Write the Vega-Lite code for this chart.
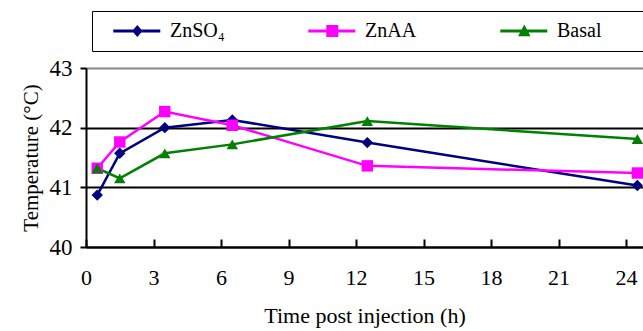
{
  "$schema": "https://vega.github.io/schema/vega-lite/v6.json",
  "width": 557,
  "height": 179,
  "autosize": "none",
  "padding": {"left": 86, "top": 68, "right": 0, "bottom": 84},
  "background": "white",
  "config": {
    "view": {"stroke": null},
    "font": "Liberation Serif",
    "axis": {"labelFont": "Liberation Serif", "titleFont": "Liberation Serif"},
    "legend": {"labelFont": "Liberation Serif", "titleFont": "Liberation Serif"}
  },
  "data": {
    "values": [
      {"time": 0.5, "group": "ZnSO4", "temp": 40.87},
      {"time": 1.5, "group": "ZnSO4", "temp": 41.57},
      {"time": 3.5, "group": "ZnSO4", "temp": 42.0},
      {"time": 6.5, "group": "ZnSO4", "temp": 42.13},
      {"time": 12.5, "group": "ZnSO4", "temp": 41.75},
      {"time": 24.5, "group": "ZnSO4", "temp": 41.03},
      {"time": 0.5, "group": "ZnAA", "temp": 41.32},
      {"time": 1.5, "group": "ZnAA", "temp": 41.76},
      {"time": 3.5, "group": "ZnAA", "temp": 42.27},
      {"time": 6.5, "group": "ZnAA", "temp": 42.04},
      {"time": 12.5, "group": "ZnAA", "temp": 41.36},
      {"time": 24.5, "group": "ZnAA", "temp": 41.24},
      {"time": 0.5, "group": "Basal", "temp": 41.32},
      {"time": 1.5, "group": "Basal", "temp": 41.15},
      {"time": 3.5, "group": "Basal", "temp": 41.57},
      {"time": 6.5, "group": "Basal", "temp": 41.72},
      {"time": 12.5, "group": "Basal", "temp": 42.11},
      {"time": 24.5, "group": "Basal", "temp": 41.81}
    ]
  },
  "encoding": {
    "x": {
      "field": "time", "type": "quantitative",
      "scale": {"domain": [0, 24.75], "nice": false, "zero": false},
      "axis": {
        "values": [0, 3, 6, 9, 12, 15, 18, 21, 24],
        "title": "Time post injection (h)",
        "grid": false,
        "domainColor": "black", "domainWidth": 2,
        "tickColor": "black", "tickWidth": 2, "tickSize": -8,
        "labelFont": "Liberation Serif", "labelFontSize": 22, "labelColor": "black",
        "labelPadding": 28, "labelFlush": false,
        "titleFont": "Liberation Serif", "titleFontSize": 22, "titleFontWeight": "normal",
        "titleColor": "black", "titlePadding": 17
      }
    },
    "y": {
      "field": "temp", "type": "quantitative",
      "scale": {"domain": [40, 43], "nice": false, "zero": false},
      "axis": {
        "values": [40, 41, 42, 43],
        "title": "Temperature (°C)",
        "grid": true,
        "gridColor": {"condition": {"test": "datum.value == 43", "value": "#888888"}, "value": "black"},
        "gridWidth": 2, "gridOpacity": 1,
        "domainColor": "black", "domainWidth": 2,
        "tickColor": "black", "tickWidth": 2, "tickSize": 6,
        "labelFont": "Liberation Serif", "labelFontSize": 23, "labelColor": "black",
        "labelPadding": 8,
        "titleFont": "Liberation Serif", "titleFontSize": 21, "titleFontWeight": "normal",
        "titleColor": "#000000", "titlePadding": 8
      }
    }
  },
  "layer": [
    {
      "mark": {"type": "line", "strokeWidth": 2.5},
      "encoding": {
        "color": {
          "field": "group", "type": "nominal",
          "scale": {"domain": ["ZnSO4", "ZnAA", "Basal"], "range": ["#000080", "#FF00FF", "#008000"]},
          "legend": null
        }
      }
    },
    {
      "mark": {"type": "point", "filled": true, "opacity": 1, "size": 130},
      "encoding": {
        "color": {
          "field": "group", "type": "nominal",
          "scale": {"domain": ["ZnSO4", "ZnAA", "Basal"], "range": ["#000080", "#FF00FF", "#008000"]},
          "legend": null
        },
        "shape": {
          "field": "group", "type": "nominal",
          "scale": {"domain": ["ZnSO4", "ZnAA", "Basal"], "range": ["diamond", "square", "triangle-up"]},
          "legend": null
        }
      }
    },
    {
      "mark": {"type": "point", "filled": true, "opacity": 0, "size": 10},
      "encoding": {
        "color": {
          "field": "group", "type": "nominal",
          "scale": {"domain": ["ZnSO4", "ZnAA", "Basal"], "range": ["#000080", "#FF00FF", "#008000"]},
          "legend": {
            "orient": "none", "legendX": 6, "legendY": -57,
            "direction": "horizontal",
            "title": "xxx",
            "titleOrient": "right", "titleOpacity": 0, "titleFontSize": 16, "titlePadding": 10,
            "strokeColor": "black",
            "padding": 10,
            "symbolSize": 400, "symbolOpacity": 1, "symbolStrokeWidth": 0,
            "columnPadding": 72,
            "labelFont": "Liberation Serif", "labelFontSize": 20, "labelColor": "black",
            "labelOffset": 48, "labelLimit": 400,
            "labelExpr": "datum.label == 'ZnSO4' ? 'ZnSO₄' : datum.label",
            "encode": {"legend": {"strokeWidth": {"value": 2.5}}}
          }
        },
        "shape": {
          "field": "group", "type": "nominal",
          "scale": {
            "domain": ["ZnSO4", "ZnAA", "Basal"],
            "range": [
              "M0.13,-0.14H4.83V0.14H0.13ZM2.53,-0.6L3.05,0L2.53,0.6L2.01,0Z",
              "M0.13,-0.14H4.83V0.14H0.13ZM1.93,-0.6H3.13V0.6H1.93Z",
              "M0.13,-0.14H4.83V0.14H0.13ZM2.53,-0.65L3.15,0.52H1.91Z"
            ]
          },
          "legend": {
            "orient": "none", "legendX": 6, "legendY": -57,
            "direction": "horizontal",
            "title": "xxx",
            "titleOrient": "right", "titleOpacity": 0, "titleFontSize": 16, "titlePadding": 10,
            "strokeColor": "black",
            "padding": 10,
            "symbolSize": 400, "symbolOpacity": 1, "symbolStrokeWidth": 0,
            "columnPadding": 72,
            "labelFont": "Liberation Serif", "labelFontSize": 20, "labelColor": "black",
            "labelOffset": 48, "labelLimit": 400,
            "labelExpr": "datum.label == 'ZnSO4' ? 'ZnSO₄' : datum.label",
            "encode": {"legend": {"strokeWidth": {"value": 2.5}}}
          }
        }
      }
    }
  ],
  "resolve": {"scale": {"shape": "independent", "color": "independent"}}
}
